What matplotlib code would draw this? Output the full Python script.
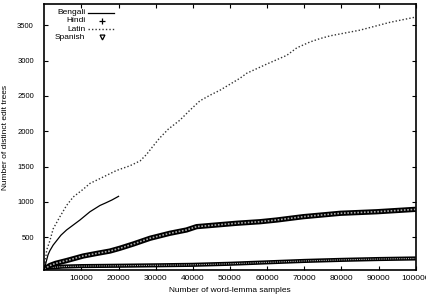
import matplotlib
matplotlib.use("Agg")
import matplotlib.pyplot as plt

plt.rcParams['font.family'] = ['Liberation Sans', 'DejaVu Sans']

# word-lemma samples vs distinct edit trees
latin_x = [0, 650, 1500, 2400, 4200, 6000, 7800, 10500, 12300, 15000, 17700,
           19500, 23000, 25800, 27500, 29000, 31000, 33400, 36500, 39200,
           41900, 44600, 47300, 52700, 54500, 59900, 65300, 68000, 71500,
           74200, 77000, 85000, 93000, 100000]
latin_y = [40, 320, 450, 620, 790, 950, 1070, 1180, 1262, 1330, 1400,
           1446, 1510, 1580, 1670, 1770, 1900, 2030, 2156, 2297,
           2430, 2509, 2580, 2750, 2820, 2950, 3074, 3180, 3262,
           3310, 3350, 3430, 3540, 3615]

bengali_x = [0, 500, 1000, 1500, 2400, 3300, 4500, 6000, 9600, 12300, 15000,
             16500, 18200, 20000]
bengali_y = [40, 150, 250, 310, 390, 450, 530, 603, 744, 861, 950,
             985, 1027, 1079]

spanish_x = [0, 1500, 3000, 6000, 10500, 14000, 17700, 20400, 24000, 28500,
             33800, 38300, 41000, 46400, 51800, 58100, 62600, 69700, 79700,
             89500, 100000]
spanish_y = [50, 100, 130, 170, 235, 270, 305, 345, 405, 486,
             556, 603, 650, 674, 698, 720, 744, 791, 839,
             861, 895]

hindi_x = [0, 1000, 5000, 10000, 20000, 30000, 40000, 50000, 60000, 70000,
           80000, 90000, 100000]
hindi_y = [40, 70, 85, 92, 97, 103, 110, 125, 145, 165, 180, 192, 200]

xticks = [10000, 20000, 30000, 40000, 50000, 60000, 70000, 80000, 90000, 100000]
yticks = [500, 1000, 1500, 2000, 2500, 3000, 3500]

fig = plt.figure(figsize=(4.27, 2.94), dpi=100)
ax = fig.add_axes([0.1037, 0.080, 0.8698, 0.9064])

# thick marker bands drawn as a dark line with a light texture on top
ax.plot(hindi_x, hindi_y, color='black', lw=3.0, solid_capstyle='butt')
ax.plot(hindi_x, hindi_y, color='#bbbbbb', lw=0.8, ls=(0, (1, 1)))
ax.plot(spanish_x, spanish_y, color='black', lw=3.8, solid_capstyle='butt')
ax.plot(spanish_x, spanish_y, color='#aaaaaa', lw=1.2, ls=(0, (1, 1)))
ax.plot(latin_x, latin_y, color='#333333', lw=1.0, ls=(0, (1, 1.5)))
ax.plot(bengali_x, bengali_y, color='black', lw=0.9)

ax.set_xlim(0, 100000)
ax.set_ylim(30, 3800)
ax.set_xticks(xticks)
ax.set_yticks(yticks)
ax.set_xticklabels([str(t) for t in xticks], fontsize=6)
ax.set_yticklabels([str(t) for t in yticks], fontsize=5.5)
ax.tick_params(direction='in', length=3, width=0.8, top=True, right=True)
ax.tick_params(axis='x', pad=3)
ax.tick_params(axis='y', pad=7.5)
for s in ax.spines.values():
    s.set_linewidth(1.2)

ax.set_xlabel('Number of word-lemma samples', fontsize=6, labelpad=3.5)
ax.set_ylabel('Number of distinct edit trees', fontsize=6, labelpad=6)

# gnuplot style key: right-aligned labels followed by samples
names = ['Bengali', 'Hindi', 'Latin', 'Spanish']
for i, name in enumerate(names):
    yk = 0.968 - i * 0.031
    ax.text(0.110, yk, name, transform=ax.transAxes, ha='right', va='center', fontsize=6)
    if name == 'Bengali':
        ax.plot([0.118, 0.188], [yk, yk], transform=ax.transAxes, color='black', lw=0.9)
    elif name == 'Latin':
        ax.plot([0.118, 0.188], [yk, yk], transform=ax.transAxes, color='#333333',
                lw=1.0, ls=(0, (1, 1.5)))
    elif name == 'Hindi':
        ax.plot([0.155], [yk], transform=ax.transAxes, marker='+', color='black',
                ms=4, mew=0.9)
    else:
        ax.plot([0.155], [yk], transform=ax.transAxes, marker='v', color='black',
                ms=3.5, mfc='white', mew=0.9)

fig.savefig('out.png', dpi=100)
